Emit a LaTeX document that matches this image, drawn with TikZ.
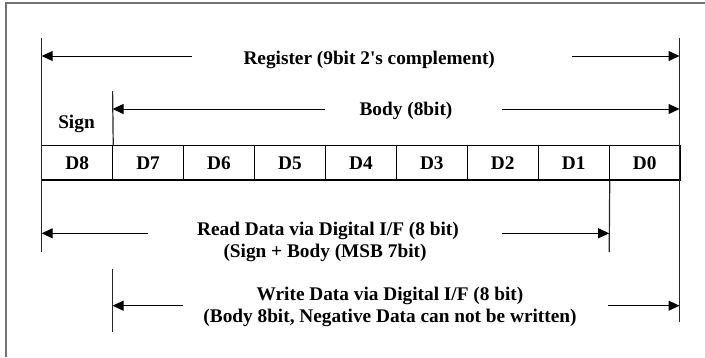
\documentclass[tikz,border=0pt]{standalone}
\usepackage{fontspec}
\setmainfont{Liberation Serif}
\usetikzlibrary{arrows.meta}
\begin{document}
\begin{tikzpicture}[x=1pt,y=-1pt,
  lbl/.style={font=\fontsize{19.3}{22}\selectfont\bfseries, inner sep=0pt, anchor=base},
  cell/.style={draw=black, line width=1.2pt, minimum width=70.93pt, minimum height=34.7pt, inner sep=0pt, text height=12.8pt, text depth=0pt, font=\fontsize{19.3}{22}\selectfont\bfseries},
  dimline/.style={line width=1.2pt, draw=black!85},
  arr/.style={line width=1pt, draw=black, -{Triangle[length=11pt,width=10pt]}},
  frame/.style={line width=2pt, draw=black!55}]
\useasboundingbox (0,0) rectangle (705,357);
% outer frame (cropped)
\draw[frame] (5.5,357) -- (5.5,3) -- (705,3);
% register cells
\foreach \n [count=\i from 0] in {8,7,6,5,4,3,2,1,0}
  \node[cell] (d\n) at ({41.7+70.93*(\i+0.5)},162.7) {D\n};
% dimension line end points
\coordinate (regTopL) at (41.7,38);
\coordinate (regTopR) at (679.5,38);
\coordinate (readBotL) at (41.7,252);
\coordinate (writeBotR) at (679.5,322);
\coordinate (bodyTop) at (112.6,91);
\coordinate (readBotR) at (609.2,252);
\coordinate (writeTopL) at (112.6,269);
\coordinate (writeBotL) at (112.6,332);
% vertical extension lines
\draw[dimline] (regTopL) -- (readBotL);
\draw[dimline] (regTopR) -- (writeBotR);
\draw[dimline] (bodyTop) -- (d8.north east);
\draw[dimline] (d1.south east) -- (readBotR);
\draw[dimline] (writeTopL) -- (writeBotL);
% labels
\node[lbl] (reg) at (369.2,64) {Register (9bit 2\textquotesingle s complement)};
\node[lbl] (body) at (406,115) {Body (8bit)};
\node[lbl] (sign) at (76.5,128) {Sign};
\node[lbl] (readA) at (328,235.7) {Read Data via Digital I/F (8 bit)};
\node[lbl] (readB) at (325,257) {(Sign + Body (MSB 7bit)};
\node[lbl] (writeA) at (390,300) {Write Data via Digital I/F (8 bit)};
\node[lbl] (writeB) at (390,322) {(Body 8bit, Negative Data can not be written)};
% arrow coordinates
\coordinate (regAL) at (192,56);   \coordinate (regEL) at (41.7,56);
\coordinate (regAR) at (572,56);   \coordinate (regER) at (679.5,56);
\coordinate (bodyAL) at (325,109); \coordinate (bodyEL) at (112.6,109);
\coordinate (bodyAR) at (502,109); \coordinate (bodyER) at (679.5,109);
\coordinate (readAL) at (148,233.3); \coordinate (readEL) at (41.7,233.3);
\coordinate (readAR) at (502,233.3); \coordinate (readER) at (609.2,233.3);
\coordinate (wrAL) at (183,305.7); \coordinate (wrEL) at (112.6,305.7);
\coordinate (wrAR) at (608,305.7); \coordinate (wrER) at (679.5,305.7);
% arrows
\draw[arr] (regAL) -- (regEL);
\draw[arr] (regAR) -- (regER);
\draw[arr] (bodyAL) -- (bodyEL);
\draw[arr] (bodyAR) -- (bodyER);
\draw[arr] (readAL) -- (readEL);
\draw[arr] (readAR) -- (readER);
\draw[arr] (wrAL) -- (wrEL);
\draw[arr] (wrAR) -- (wrER);
\end{tikzpicture}
\end{document}
